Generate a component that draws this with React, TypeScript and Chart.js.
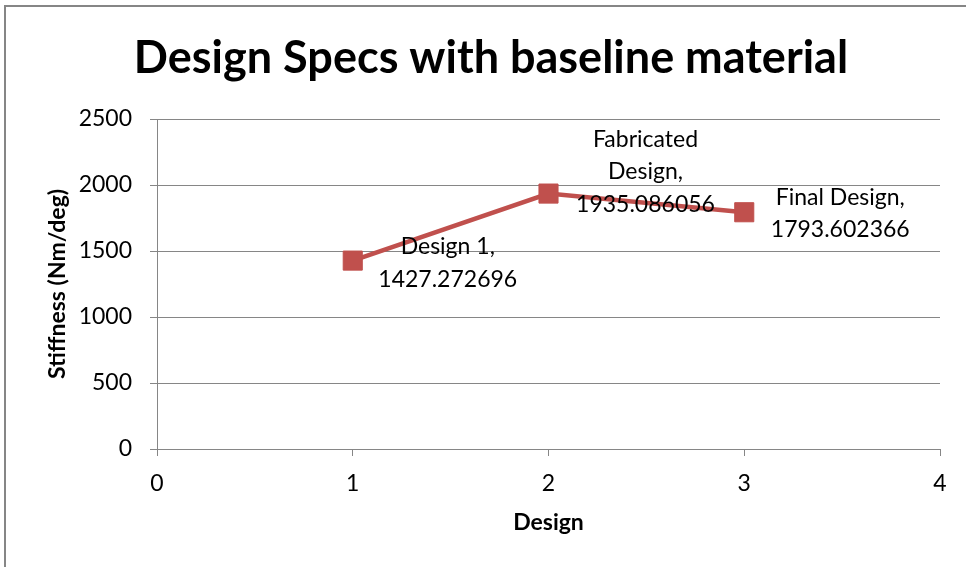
import React, { useEffect, useRef } from "react";
import { Chart, registerables } from "chart.js";

Chart.register(...registerables);

const designX = [1, 2, 3];
const stiffness = [1427.272696, 1935.086056, 1793.602366];
const labelNameLines = [["Design 1,"], ["Fabricated", "Design,"], ["Final Design,"]];
const xTicks = [0, 1, 2, 3, 4];
const yTicks = [0, 500, 1000, 1500, 2000, 2500];
const titleText = "Design Specs with baseline material";
const xTitle = "Design";
const yTitle = "Stiffness (Nm/deg)";

const FONT = "Lato, 'Open Sans', sans-serif";
const GRAY = "#868686";
const RED = "#C0504D";

// label placement offsets relative to each point (dx of centre, dy of first line)
const labelOffsets = [
  [95, -14],
  [97, -54],
  [96, -15],
];

export default function App() {
  const ref = useRef<HTMLCanvasElement | null>(null);

  useEffect(() => {
    if (!ref.current) return;

    const framePlugin = {
      id: "frame",
      beforeDraw(chart: any) {
        const ctx = chart.ctx;
        ctx.save();
        ctx.fillStyle = "#ffffff";
        ctx.fillRect(0, 0, chart.width, chart.height);
        ctx.strokeStyle = GRAY;
        ctx.lineWidth = 2;
        ctx.beginPath();
        ctx.moveTo(5, chart.height + 2);
        ctx.lineTo(5, 6);
        ctx.lineTo(chart.width + 2, 6);
        ctx.stroke();
        ctx.restore();
      },
      afterDraw(chart: any) {
        const ctx = chart.ctx;
        ctx.save();
        ctx.fillStyle = "#000";
        ctx.font = `bold 45px ${FONT}`;
        ctx.textAlign = "center";
        ctx.textBaseline = "middle";
        ctx.fillText(titleText, 491, 58);
        ctx.restore();
      },
    };

    const labelPlugin = {
      id: "pointLabels",
      afterDatasetsDraw(chart: any) {
        const ctx = chart.ctx;
        const meta = chart.getDatasetMeta(0);
        ctx.save();
        ctx.fillStyle = "#000";
        ctx.font = `23px ${FONT}`;
        ctx.textAlign = "center";
        ctx.textBaseline = "middle";
        meta.data.forEach((pt: any, i: number) => {
          const lines = [...labelNameLines[i], stiffness[i].toFixed(6)];
          const [dx, dy] = labelOffsets[i];
          lines.forEach((ln, j) => {
            ctx.fillText(ln, pt.x + dx, pt.y + dy + j * 32.5);
          });
        });
        ctx.restore();
      },
    };

    const chart = new Chart(ref.current, {
      type: "scatter",
      data: {
        datasets: [
          {
            data: designX.map((x, i) => ({ x, y: stiffness[i] })),
            showLine: true,
            borderColor: RED,
            backgroundColor: RED,
            borderWidth: 4.5,
            pointStyle: "rect",
            pointRadius: 13.5,
            pointBorderWidth: 1,
            pointBorderColor: RED,
            pointBackgroundColor: RED,
          },
        ],
      },
      options: {
        animation: false,
        responsive: true,
        maintainAspectRatio: false,
        layout: { padding: { top: 119, right: 26, left: 0, bottom: 0 } },
        plugins: {
          legend: { display: false },
          tooltip: { enabled: false },
          title: { display: false },
        },
        scales: {
          x: {
            type: "linear",
            min: xTicks[0],
            max: xTicks[xTicks.length - 1],
            afterFit: (s: any) => {
              s.height = 118;
            },
            ticks: {
              stepSize: 1,
              color: "#000",
              font: { family: FONT, size: 23 },
              padding: 14,
              callback: (v: any) => String(v),
            },
            grid: {
              drawOnChartArea: false,
              drawTicks: true,
              tickLength: 7,
              color: GRAY,
              lineWidth: 1,
            },
            border: { display: true, color: GRAY, width: 1 },
            title: {
              display: true,
              text: xTitle,
              color: "#000",
              font: { family: FONT, size: 23, weight: "bold" },
              padding: { top: 0, bottom: 31 },
            },
          },
          y: {
            type: "linear",
            min: yTicks[0],
            max: yTicks[yTicks.length - 1],
            afterFit: (s: any) => {
              s.width = 157;
            },
            ticks: {
              stepSize: 500,
              color: "#000",
              font: { family: FONT, size: 23 },
              padding: 18,
              callback: (v: any) => String(v),
            },
            grid: {
              drawOnChartArea: true,
              drawTicks: true,
              tickLength: 7,
              color: GRAY,
              lineWidth: 1,
            },
            border: { display: true, color: GRAY, width: 1 },
            title: {
              display: true,
              text: yTitle,
              color: "#000",
              font: { family: FONT, size: 23, weight: "bold" },
              padding: { top: 44, bottom: 0 },
            },
          },
        },
      },
      plugins: [framePlugin, labelPlugin],
    });

    return () => chart.destroy();
  }, []);

  return (
    <div style={{ position: "absolute", left: 0, top: 0, width: 966, height: 567 }}>
      <canvas ref={ref} />
    </div>
  );
}
